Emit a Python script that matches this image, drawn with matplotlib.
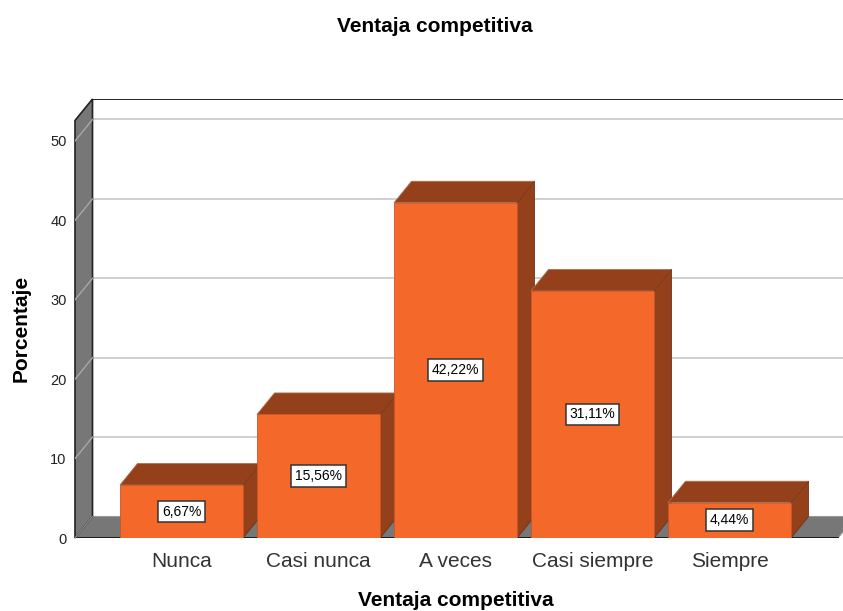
import matplotlib
matplotlib.use('Agg')
import matplotlib.pyplot as plt
from matplotlib.patches import Polygon

categories = ['Nunca', 'Casi nunca', 'A veces', 'Casi siempre', 'Siempre']
values = [6.67, 15.56, 42.22, 31.11, 4.44]
value_labels = ['6,67%', '15,56%', '42,22%', '31,11%', '4,44%']
y_ticks = [0, 10, 20, 30, 40, 50]

FRONT = '#F4682A'
DARK = '#94401A'
WALL = '#777777'
GRID = '#C8C8C8'

W, H = 843, 611
# pixel layout of the plot, measured on the reference
LEFT, RIGHT, BASE, TOP = 75, 843, 538, 99
PX_X = 137.0   # one category step
PX_Y = 7.94    # one percent
X0 = 181.5     # pixel centre of first bar
DX = 17.5 / PX_X
DY = 21.5 / PX_Y
BAR_W = 123 / PX_X

plt.rcParams['font.family'] = ['Liberation Sans', 'DejaVu Sans']

fig = plt.figure(figsize=(W / 100, H / 100), dpi=100)
ax = fig.add_axes([LEFT / W, 1 - BASE / H, (RIGHT - LEFT) / W, (BASE - TOP) / H])
xmin = (LEFT - X0) / PX_X
xmax = (RIGHT - X0) / PX_X
ymax = (BASE - TOP) / PX_Y
ax.set_xlim(xmin, xmax)
ax.set_ylim(0, ymax)
for s in ax.spines.values():
    s.set_visible(False)

wall_top = ymax - DY
x_end = xmax + 0.2

# floor and left wall
floor = Polygon([(xmin, 0), (xmin + 763 / PX_X, 0), (xmin + 763 / PX_X + DX, DY), (xmin + DX, DY)],
                facecolor=WALL, edgecolor='#999999', linewidth=0.8, zorder=1, clip_on=True)
ax.add_patch(floor)
wall = Polygon([(xmin, 0), (xmin, wall_top), (xmin + DX, ymax), (xmin + DX, DY)],
               facecolor=WALL, edgecolor='#222222', linewidth=1.2, zorder=2, clip_on=False)
ax.add_patch(wall)

# back frame
ax.plot([xmin + DX, x_end], [ymax, ymax], color='#111111', linewidth=1.3, zorder=2, clip_on=True)
ax.plot([xmin, xmin + 763 / PX_X], [0, 0], color='#111111', linewidth=1.3, zorder=2)
ax.plot([xmin, xmin + DX], [0, DY], color='#999999', linewidth=0.8, zorder=3)

# gridlines: slanted over the wall, then along the back
for t in y_ticks[1:]:
    ax.plot([xmin, xmin + DX], [t, t + DY], color='#A8A8A8', linewidth=1.0, zorder=3)
    ax.plot([xmin + DX, x_end], [t + DY, t + DY], color=GRID, linewidth=1.2, zorder=1.5)

# bars, left to right so each covers the side of the one before
for i, v in enumerate(values):
    z = 4 + i
    l = i - BAR_W / 2
    r = i + BAR_W / 2
    ax.add_patch(Polygon([(l, v), (r, v), (r + DX, v + DY), (l + DX, v + DY)],
                         facecolor=DARK, edgecolor='#A9714F', linewidth=0.6, zorder=z))
    ax.add_patch(Polygon([(r, 0), (r + DX, DY), (r + DX, v + DY), (r, v)],
                         facecolor=DARK, edgecolor='#6E3315', linewidth=0.6, zorder=z))
    ax.bar(i, v, width=BAR_W, color=FRONT, edgecolor='#C9552A', linewidth=0.6, zorder=z + 0.1)
    ax.text(i, v / 2, value_labels[i], ha='center', va='center', fontsize=10, color='black', zorder=20,
            bbox=dict(boxstyle='square,pad=0.28', facecolor='white', edgecolor='#333333', linewidth=1.1))

ax.set_xticks(range(len(categories)))
ax.set_xticklabels(categories, fontsize=15, color='#333333')
ax.set_yticks(y_ticks)
ax.set_yticklabels([str(t) for t in y_ticks], fontsize=10.5, color='#222222')
ax.tick_params(axis='x', length=0, pad=10)
ax.tick_params(axis='y', length=0, pad=6)

fig.text(435 / W, 1 - 27 / H, 'Ventaja competitiva', ha='center', va='center', fontsize=15, fontweight='bold')
fig.text(456 / W, 1 - 601 / H, 'Ventaja competitiva', ha='center', va='center', fontsize=15, fontweight='bold')
fig.text(21 / W, 1 - 328 / H, 'Porcentaje', ha='center', va='center', rotation=90, fontsize=15, fontweight='bold')

fig.savefig('out.png', dpi=100)
